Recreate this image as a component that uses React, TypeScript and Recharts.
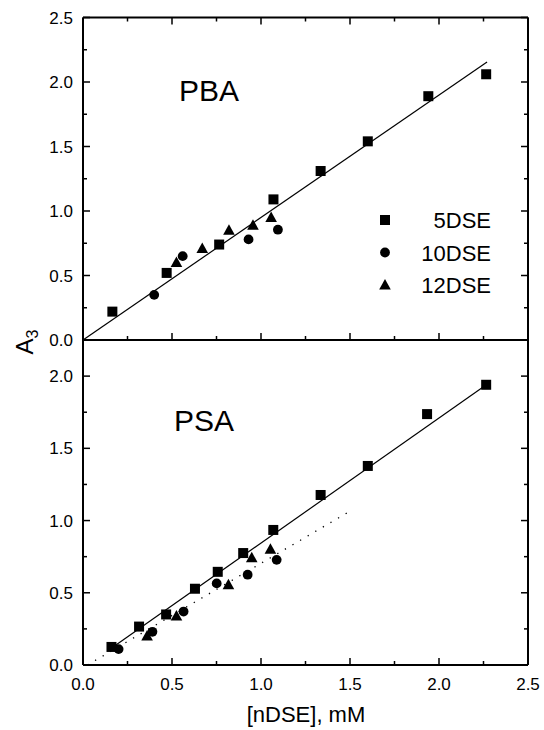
import React from 'react';
import { ScatterChart, Scatter, XAxis, YAxis, ReferenceLine } from 'recharts';

const FONT = '"Liberation Sans", Arial, Helvetica, sans-serif';

// ---- axis ticks and labels ----
const xTicks = [0, 0.25, 0.5, 0.75, 1, 1.25, 1.5, 1.75, 2, 2.25, 2.5];
const xTickLabels = ['0.0', '0.5', '1.0', '1.5', '2.0', '2.5'];
const topYTicks = [0, 0.25, 0.5, 0.75, 1, 1.25, 1.5, 1.75, 2, 2.25, 2.5];
const topYTickLabels = ['0.0', '0.5', '1.0', '1.5', '2.0', '2.5'];
const bottomYTicks = [0, 0.25, 0.5, 0.75, 1, 1.25, 1.5, 1.75, 2, 2.25];
const bottomYTickLabels = ['0.0', '0.5', '1.0', '1.5', '2.0'];
const xAxisTitle = '[nDSE], mM';
const yAxisTitle = 'A';
const yAxisTitleSub = '3';
const panelTitles = ['PBA', 'PSA'];
const seriesNames = ['5DSE', '10DSE', '12DSE'];

// ---- PBA panel (top) ----
const pba5DSE = [
  { x: 0.165, y: 0.22 }, { x: 0.47, y: 0.52 }, { x: 0.765, y: 0.74 }, { x: 1.07, y: 1.09 },
  { x: 1.335, y: 1.31 }, { x: 1.6, y: 1.54 }, { x: 1.94, y: 1.89 }, { x: 2.265, y: 2.06 },
];
const pba10DSE = [
  { x: 0.4, y: 0.35 }, { x: 0.56, y: 0.65 }, { x: 0.93, y: 0.78 }, { x: 1.095, y: 0.855 },
];
const pba12DSE = [
  { x: 0.525, y: 0.6 }, { x: 0.67, y: 0.71 }, { x: 0.82, y: 0.85 }, { x: 0.955, y: 0.89 }, { x: 1.057, y: 0.95 },
];
const pbaFit = [{ x: 0, y: 0 }, { x: 2.27, y: 2.155 }];

// ---- PSA panel (bottom) ----
const psa5DSE = [
  { x: 0.16, y: 0.125 }, { x: 0.315, y: 0.266 }, { x: 0.467, y: 0.35 }, { x: 0.629, y: 0.528 },
  { x: 0.757, y: 0.645 }, { x: 0.9, y: 0.775 }, { x: 1.069, y: 0.935 }, { x: 1.335, y: 1.177 },
  { x: 1.6, y: 1.378 }, { x: 1.933, y: 1.737 }, { x: 2.265, y: 1.94 },
];
const psa10DSE = [
  { x: 0.2, y: 0.11 }, { x: 0.39, y: 0.23 }, { x: 0.565, y: 0.37 }, { x: 0.751, y: 0.565 },
  { x: 0.925, y: 0.625 }, { x: 1.088, y: 0.728 },
];
const psa12DSE = [
  { x: 0.36, y: 0.2 }, { x: 0.525, y: 0.34 }, { x: 0.817, y: 0.556 }, { x: 0.948, y: 0.743 }, { x: 1.053, y: 0.802 },
];
const psaFit = [{ x: 0.175, y: 0.13 }, { x: 2.26, y: 1.935 }];
const psaDotted = [{ x: 0.025, y: 0 }, { x: 1.5, y: 1.065 }];

// ---- styling helpers ----
const MAJ = 7;
const MIN = 4;
const isMajor = (v: number) => Math.abs(v / 0.5 - Math.round(v / 0.5)) < 1e-6;
const labelFor = (labels: string[], v: number) => labels[Math.round(v / 0.5)];

const squareAt = (cx: number, cy: number, key?: string) => (
  <rect key={key} x={cx - 5} y={cy - 5} width={10} height={10} fill="#000" />
);
const circleAt = (cx: number, cy: number, key?: string) => (
  <circle key={key} cx={cx} cy={cy} r={4.9} fill="#000" />
);
const triangleAt = (cx: number, cy: number, key?: string) => (
  <polygon key={key} points={`${cx},${cy - 6} ${cx - 5.8},${cy + 4.5} ${cx + 5.8},${cy + 4.5}`} fill="#000" />
);
const SquareShape = (p: any) => squareAt(p.cx, p.cy);
const CircleShape = (p: any) => circleAt(p.cx, p.cy);
const TriangleShape = (p: any) => triangleAt(p.cx, p.cy);
const legendShapes = [squareAt, circleAt, triangleAt];

const BottomTick = (labels: string[] | null) => (p: any) => {
  const v = p.payload.value;
  const major = isMajor(v);
  return (
    <g>
      <line x1={p.x} x2={p.x} y1={p.y} y2={p.y - (major ? MAJ : MIN)} stroke="#000" strokeWidth={1.5} />
      {labels && major ? (
        <text x={p.x} y={p.y + 25} textAnchor="middle" fontSize={17} fontFamily={FONT} fill="#000">
          {labelFor(labels, v)}
        </text>
      ) : null}
    </g>
  );
};
const TopTick = (p: any) => {
  const major = isMajor(p.payload.value);
  return <line x1={p.x} x2={p.x} y1={p.y} y2={p.y + (major ? MAJ : MIN)} stroke="#000" strokeWidth={1.5} />;
};
const LeftTick = (labels: string[]) => (p: any) => {
  const v = p.payload.value;
  const major = isMajor(v);
  const lab = major ? labelFor(labels, v) : undefined;
  return (
    <g>
      <line x1={p.x} x2={p.x + (major ? MAJ : MIN)} y1={p.y} y2={p.y} stroke="#000" strokeWidth={1.5} />
      {lab ? (
        <text x={p.x - 10} y={p.y + 6} textAnchor="end" fontSize={17} fontFamily={FONT} fill="#000">
          {lab}
        </text>
      ) : null}
    </g>
  );
};
const RightTick = (p: any) => {
  const major = isMajor(p.payload.value);
  return <line x1={p.x} x2={p.x - (major ? MAJ : MIN)} y1={p.y} y2={p.y} stroke="#000" strokeWidth={1.5} />;
};

const axisLine = { stroke: '#000', strokeWidth: 2 };

const TopLegend = () => (
  <g>
    {seriesNames.map((name, i) => {
      const cy = 220 + i * 32.5;
      return (
        <g key={name}>
          {legendShapes[i](385, cy)}
          <text x={491} y={cy + 8} textAnchor="end" fontSize={22} fontFamily={FONT} fill="#000">
            {name}
          </text>
        </g>
      );
    })}
  </g>
);

const YTitle = () => (
  <text transform="translate(33, 342) rotate(-90)" textAnchor="middle" fontSize={24} fontFamily={FONT} fill="#000">
    {yAxisTitle}
    <tspan fontSize={16} dy={5}>{yAxisTitleSub}</tspan>
  </text>
);

const PanelTitle = (text: string, x: number, y: number) => () => (
  <text x={x} y={y} textAnchor="middle" fontSize={30} fontFamily={FONT} fill="#000">
    {text}
  </text>
);

const XTitle = () => (
  <text x={306} y={392} textAnchor="middle" fontSize={22} fontFamily={FONT} fill="#000">
    {xAxisTitle}
  </text>
);

export default function App() {
  return (
    <div style={{ position: 'absolute', left: 0, top: 0, width: 544, height: 730, background: '#fff' }}>
      <div style={{ position: 'absolute', left: 0, top: 0 }}>
        <ScatterChart width={544} height={370} margin={{ top: 16.5, right: 15, bottom: 29, left: 0 }}>
          <XAxis xAxisId="b" type="number" dataKey="x" domain={[0, 2.5]} ticks={xTicks} interval={0}
            tickSize={0} tickMargin={0} tickLine={false} axisLine={axisLine} height={1}
            tick={BottomTick(null)} allowDataOverflow />
          <XAxis xAxisId="t" orientation="top" type="number" dataKey="x" domain={[0, 2.5]} ticks={xTicks} interval={0}
            tickSize={0} tickMargin={0} tickLine={false} axisLine={axisLine} height={1}
            tick={TopTick} allowDataOverflow label={{ content: PanelTitle(panelTitles[0], 209, 100.5) }} />
          <YAxis yAxisId="l" type="number" dataKey="y" domain={[0, 2.5]} ticks={topYTicks} interval={0}
            tickSize={0} tickMargin={0} tickLine={false} axisLine={axisLine} width={83}
            tick={LeftTick(topYTickLabels)} allowDataOverflow label={{ content: YTitle }} />
          <YAxis yAxisId="r" orientation="right" type="number" dataKey="y" domain={[0, 2.5]} ticks={topYTicks} interval={0}
            tickSize={0} tickMargin={0} tickLine={false} axisLine={axisLine} width={1}
            tick={RightTick} allowDataOverflow label={{ content: TopLegend }} />
          <ReferenceLine xAxisId="b" yAxisId="l" segment={pbaFit} stroke="#000" strokeWidth={1.2} />
          <Scatter name={seriesNames[0]} xAxisId="b" yAxisId="l" data={pba5DSE} shape={SquareShape} isAnimationActive={false} />
          <Scatter name={seriesNames[1]} xAxisId="b" yAxisId="l" data={pba10DSE} shape={CircleShape} isAnimationActive={false} />
          <Scatter name={seriesNames[2]} xAxisId="b" yAxisId="l" data={pba12DSE} shape={TriangleShape} isAnimationActive={false} />
        </ScatterChart>
      </div>
      <div style={{ position: 'absolute', left: 0, top: 330 }}>
        <ScatterChart width={544} height={400} margin={{ top: 10, right: 15, bottom: 64, left: 0 }}>
          <XAxis xAxisId="b" type="number" dataKey="x" domain={[0, 2.5]} ticks={xTicks} interval={0}
            tickSize={0} tickMargin={0} tickLine={false} axisLine={axisLine} height={1}
            tick={BottomTick(xTickLabels)} allowDataOverflow label={{ content: XTitle }} />
          <YAxis yAxisId="l" type="number" dataKey="y" domain={[0, 2.25]} ticks={bottomYTicks} interval={0}
            tickSize={0} tickMargin={0} tickLine={false} axisLine={axisLine} width={83}
            tick={LeftTick(bottomYTickLabels)} allowDataOverflow
            label={{ content: PanelTitle(panelTitles[1], 204, 100.7) }} />
          <YAxis yAxisId="r" orientation="right" type="number" dataKey="y" domain={[0, 2.25]} ticks={bottomYTicks} interval={0}
            tickSize={0} tickMargin={0} tickLine={false} axisLine={axisLine} width={1}
            tick={RightTick} allowDataOverflow />
          <ReferenceLine xAxisId="b" yAxisId="l" segment={psaFit} stroke="#000" strokeWidth={1.2} />
          <ReferenceLine xAxisId="b" yAxisId="l" segment={psaDotted} stroke="#000" strokeWidth={1.3} strokeDasharray="1.3 7.5" />
          <Scatter name={seriesNames[0]} xAxisId="b" yAxisId="l" data={psa5DSE} shape={SquareShape} isAnimationActive={false} />
          <Scatter name={seriesNames[1]} xAxisId="b" yAxisId="l" data={psa10DSE} shape={CircleShape} isAnimationActive={false} />
          <Scatter name={seriesNames[2]} xAxisId="b" yAxisId="l" data={psa12DSE} shape={TriangleShape} isAnimationActive={false} />
        </ScatterChart>
      </div>
    </div>
  );
}
